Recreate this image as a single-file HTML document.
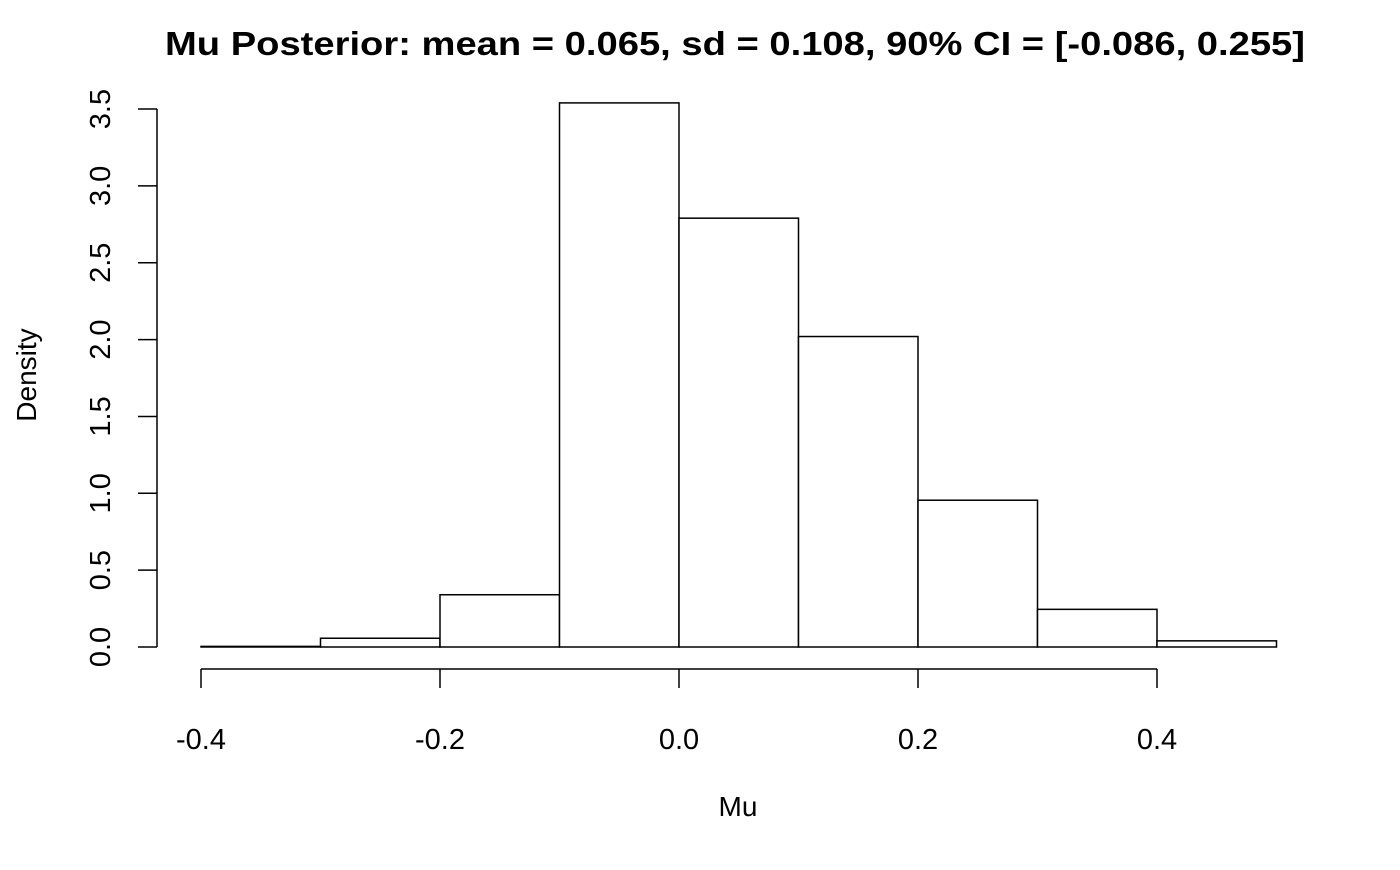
<!DOCTYPE html>
<html><head><meta charset="utf-8"><style>
body{margin:0;background:#fff}
svg text{font-family:"Liberation Sans",Arial,sans-serif;fill:#000}
</style></head><body>
<svg id="c" width="1400" height="865" viewBox="0 0 1400 865">
<text x="735" y="55" text-anchor="middle" font-size="33" font-weight="bold" textLength="1140" lengthAdjust="spacingAndGlyphs">Mu Posterior: mean = 0.065, sd = 0.108, 90% CI = [-0.086, 0.255]</text>
<text x="738" y="816" text-anchor="middle" font-size="28">Mu</text>
<text transform="translate(36,375) rotate(-90)" text-anchor="middle" font-size="28">Density</text>
<g id="bars"></g>
<g id="xaxis"></g>
<g id="yaxis"></g>
</svg>
<script>
const binEdges=[-0.4,-0.3,-0.2,-0.1,0.0,0.1,0.2,0.3,0.4,0.5];
const densities=[0.004,0.057,0.34,3.54,2.79,2.02,0.955,0.245,0.04];
const xTicks=[-0.4,-0.2,0.0,0.2,0.4];
const xTickLabels=["-0.4","-0.2","0.0","0.2","0.4"];
const yTicks=[0,0.5,1,1.5,2,2.5,3,3.5];
const yTickLabels=["0.0","0.5","1.0","1.5","2.0","2.5","3.0","3.5"];
const NS="http://www.w3.org/2000/svg";
const X=v=>679+(v-0)*1195;
const Y=v=>647-v*153.7;
function mk(t,a,p){const e=document.createElementNS(NS,t);for(const k in a)e.setAttribute(k,a[k]);p.appendChild(e);return e;}
const bars=document.getElementById('bars');
densities.forEach((d,i)=>{
 const x0=X(binEdges[i]),x1=X(binEdges[i+1]);
 const r=mk('rect',{x:x0,y:Y(d),width:x1-x0,height:Y(0)-Y(d),fill:'#fff',stroke:'#000','stroke-width':1.5},bars);
 
 
});
const xa=document.getElementById('xaxis');
mk('line',{x1:X(xTicks[0]),x2:X(xTicks[xTicks.length-1]),y1:669,y2:669,stroke:'#000','stroke-width':1.5},xa);
xTicks.forEach((t,i)=>{
 mk('line',{x1:X(t),x2:X(t),y1:669,y2:688,stroke:'#000','stroke-width':1.5},xa);
 const tx=mk('text',{x:X(t),y:749,'text-anchor':'middle','font-size':29},xa);
 tx.textContent=xTickLabels[i];
 
 
});
const ya=document.getElementById('yaxis');
mk('line',{x1:157,x2:157,y1:Y(yTicks[0]),y2:Y(yTicks[yTicks.length-1]),stroke:'#000','stroke-width':1.5},ya);
yTicks.forEach((t,i)=>{
 mk('line',{x1:138,x2:157,y1:Y(t),y2:Y(t),stroke:'#000','stroke-width':1.5},ya);
 const tx=mk('text',{transform:`translate(110,${Y(t)}) rotate(-90)`,'text-anchor':'middle','font-size':29},ya);
 tx.textContent=yTickLabels[i];
 
 
});
</script>
</body></html>
